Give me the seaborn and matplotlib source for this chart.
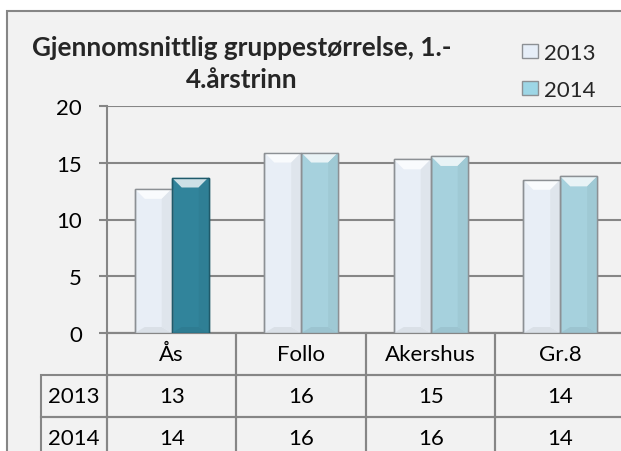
import matplotlib

matplotlib.use("Agg")

import matplotlib.pyplot as plt
import pandas as pd
import seaborn as sns
from matplotlib.colors import to_rgb
from matplotlib.patches import Patch, Polygon, Rectangle

categories = ["Ås", "Follo", "Akershus", "Gr.8"]
years = ["2013", "2014"]
values_2013 = [12.7, 15.9, 15.3, 13.5]
values_2014 = [13.7, 15.9, 15.6, 13.8]
table_2013 = ["13", "16", "15", "14"]
table_2014 = ["14", "16", "16", "14"]
y_ticks = [0, 5, 10, 15, 20]
title = "Gjennomsnittlig gruppestørrelse, 1.-\n4.årstrinn"

color_2013 = "#E6EEF8"
color_2014 = "#9DD6E6"
color_highlight = "#31849B"
edge_color = "#8C9094"
grid_color = "#868686"
bg_color = "#F2F2F2"


def lighten(color, amount):
    r, g, b = to_rgb(color)
    return (r + (1 - r) * amount, g + (1 - g) * amount, b + (1 - b) * amount)


def darken(color, amount):
    r, g, b = to_rgb(color)
    return (r * (1 - amount), g * (1 - amount), b * (1 - amount))


df = pd.DataFrame(
    {
        "category": categories * 2,
        "year": [years[0]] * 4 + [years[1]] * 4,
        "value": values_2013 + values_2014,
    }
)

sns.set_theme(style="white")
plt.rcParams["font.family"] = ["Lato", "DejaVu Sans"]

W, H = 621, 452
fig = plt.figure(figsize=(W / 100, H / 100), dpi=100)
fig.patch.set_facecolor("white")
fig.add_artist(
    Rectangle(
        (7 / W, -0.1), 1.2, (H - 12) / H + 0.1,
        transform=fig.transFigure, facecolor=bg_color,
        edgecolor=grid_color, linewidth=1.5, zorder=-10,
    )
)

ax = fig.add_axes([107 / W, 1 - 334 / H, 518 / W, 227 / H])
ax.set_facecolor(bg_color)

sns.barplot(
    data=df, x="category", y="value", hue="year",
    palette=[color_2013, color_2014], width=0.57,
    edgecolor=edge_color, linewidth=1, ax=ax, legend=False,
    zorder=3,
)

ax.containers[1][0].set_facecolor(color_highlight)
ax.containers[1][0].set_edgecolor("#1F5A6A")

# bevel shading on each bar
depth_px = 10
for bar in ax.patches:
    x, w, h = bar.get_x(), bar.get_width(), bar.get_height()
    fc = bar.get_facecolor()
    dx = w * depth_px / 37
    dy = 20 * depth_px / 227
    ax.add_patch(Polygon(
        [(x, h), (x + w, h), (x + w - dx, h - dy), (x + dx, h - dy)],
        closed=True, facecolor=lighten(fc, 0.75), edgecolor="none", zorder=4,
    ))
    ax.add_patch(Polygon(
        [(x, 0), (x + w, 0), (x + w - dx, dy * 0.6), (x + dx, dy * 0.6)],
        closed=True, facecolor=darken(fc, 0.06), edgecolor="none", zorder=4,
    ))
    ax.add_patch(Polygon(
        [(x + w, 0), (x + w, h), (x + w - dx, h - dy), (x + w - dx, dy * 0.6)],
        closed=True, facecolor=darken(fc, 0.04), edgecolor="none", zorder=4,
    ))
    ax.add_patch(Rectangle(
        (x, 0), w, h, facecolor="none", edgecolor=bar.get_edgecolor(),
        linewidth=1, zorder=5,
    ))

ax.set_xlim(-0.5, 3.5)
ax.set_ylim(0, 20)
ax.set_yticks(y_ticks)
ax.yaxis.grid(True, color=grid_color, linewidth=1.5)
ax.set_axisbelow(True)
ax.set_xlabel("")
ax.set_ylabel("")
for side in ["top", "right"]:
    ax.spines[side].set_visible(False)
for side in ["left", "bottom"]:
    ax.spines[side].set_color(grid_color)
    ax.spines[side].set_linewidth(1.5)
ax.tick_params(axis="x", bottom=False, labelbottom=False)
ax.tick_params(
    axis="y", left=True, length=6, width=1.5, color=grid_color,
    labelsize=16, pad=12, labelcolor="black",
)

# data table under the plot: header row + one row per year
row_w = 66 / 518
cell_text = [[""] + categories, [years[0]] + table_2013, [years[1]] + table_2014]
tbl = ax.table(
    cellText=cell_text,
    cellLoc="center",
    colWidths=[row_w] + [1 / 4] * 4,
    bbox=[-row_w, -126 / 227, 1 + row_w, 126 / 227],
)
tbl.auto_set_font_size(False)
for (r, c), cell in tbl.get_celld().items():
    cell.set_edgecolor(grid_color)
    cell.set_linewidth(1.5)
    cell.set_facecolor("none")
    cell.get_text().set_fontsize(16)
    cell.get_text().set_color("black")
    if r == 0 and c == 0:
        cell.visible_edges = ""

fig.text(
    242 / W, 1 - 64 / H, title, ha="center", va="center",
    fontsize=18.8, fontweight="bold", linespacing=1.45,
)

handles = [
    Patch(facecolor=color_2013, edgecolor=edge_color),
    Patch(facecolor=color_2014, edgecolor=edge_color),
]
fig.legend(
    handles, years, loc="upper left", bbox_to_anchor=(522 / W, 1 - 44 / H),
    frameon=False, fontsize=16, handlelength=0.7, handleheight=0.6,
    handletextpad=0.3, labelspacing=0.75, borderpad=0, borderaxespad=0,
)

fig.savefig("out.png", dpi=100, facecolor="white")
